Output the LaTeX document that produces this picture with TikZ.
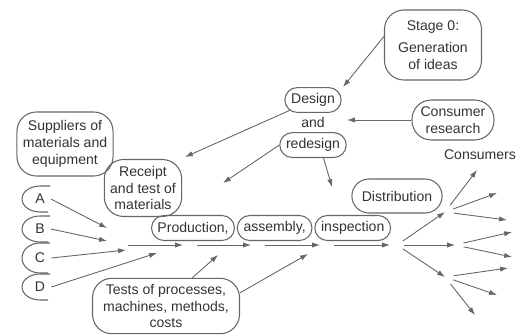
\documentclass[tikz,border=0pt]{standalone}
\usepackage{fontspec}
\setmainfont{Liberation Sans}
\usepackage{tikz}
\usetikzlibrary{arrows.meta, positioning, shapes.misc}

\begin{document}
\begin{tikzpicture}[x=0.02cm, y=-0.02cm, font=\fontsize{8}{9.5}\selectfont, text=black!80,
        box/.style={draw=black!60, rounded corners=11pt, align=center, line width=0.6pt},
        oval/.style={draw=black!60, rounded rectangle, inner xsep=2.5pt,
                     minimum height=0.5cm, line width=0.6pt},
        arr/.style={draw=black!60, line width=0.5pt, -{Latex[length=4.5pt,width=3pt]}},
        flow/.style={arr, shorten <=4pt, shorten >=4pt},
        bracket/.style={draw=black!60, line width=0.6pt}]
      \useasboundingbox (0,0) rectangle (525,335);
      \node[box, minimum width=1.94cm, minimum height=1.4cm] (stage) at (433,45)
        {Stage 0:\\[3pt]Generation\\of ideas};
      \node[oval, minimum height=0.4cm] (design) at (313,100) {Design};
      \node[below=-1pt of design] (and) {and};
      \node[oval, minimum height=0.4cm, below=-1pt of and] (redesign) {redesign};
      \node[box, minimum width=1.64cm, minimum height=0.8cm] (research) at (453,120)
        {Consumer\\research};
      \node (consumers) at (480,155) {Consumers};
      \node[box, minimum width=1.88cm, minimum height=1.28cm] (suppliers) at (65,144)
        {Suppliers of\\materials and\\equipment};
      \node[box, minimum width=1.54cm, minimum height=1.14cm] (receipt) at (143,188)
        {Receipt\\and test of\\materials};
      \node (la) at (40,199) {A};
      \node (lb) at (40,229) {B};
      \node (lc) at (40,258) {C};
      \node (ld) at (40,287) {D};
      \draw[bracket] (la.center) ++(10,-13) -- ++(-10,0)
        arc[start angle=90, end angle=270, x radius=0.36cm, y radius=0.26cm] -- ++(8,0);
      \draw[bracket] (lb.center) ++(10,-13) -- ++(-10,0)
        arc[start angle=90, end angle=270, x radius=0.36cm, y radius=0.26cm] -- ++(8,0);
      \draw[bracket] (lc.center) ++(10,-15) -- ++(-10,0)
        arc[start angle=90, end angle=270, x radius=0.36cm, y radius=0.3cm] -- ++(8,0);
      \draw[bracket] (ld.center) ++(10,-13) -- ++(-10,0)
        arc[start angle=90, end angle=270, x radius=0.36cm, y radius=0.26cm] -- ++(8,0);
      \node[oval] (prod) at (193,228) {Production,};
      \node[oval, right=1pt of prod] (assembly) {assembly,};
      \node[oval, right=1pt of assembly] (inspection) {inspection};
      \node[oval, minimum width=1.98cm, minimum height=0.68cm] (distribution) at (397,196)
        {Distribution};
      \node[box, minimum width=2.94cm, minimum height=1.1cm] (tests) at (166,306)
        {Tests of processes,\\machines, methods,\\costs};
      \coordinate (t1) at (343,87);
      \coordinate (t2) at (347,120);
      \coordinate (t3) at (185,157);
      \coordinate (t4) at (223,183);
      \coordinate (t5) at (332,187);
      \coordinate (ta) at (107,228);
      \coordinate (tb) at (107,241);
      \coordinate (tc) at (126,250);
      \coordinate (td) at (157,253);
      \coordinate (p0) at (121,245);
      \coordinate (p1) at (190,245);
      \coordinate (p2) at (258,245);
      \coordinate (p3) at (327,245);
      \coordinate (hub) at (397,245);
      \coordinate (k1) at (218,255);
      \coordinate (k2) at (308,254);
      \coordinate (c1) at (445,212);
      \coordinate (c2) at (455,245);
      \coordinate (c3) at (445,277);
      \coordinate (o1) at (477,170);
      \coordinate (o2) at (497,193);
      \coordinate (o3) at (507,220);
      \coordinate (o4) at (512,232);
      \coordinate (o5) at (512,257);
      \coordinate (o6) at (508,268);
      \coordinate (o7) at (497,295);
      \coordinate (o8) at (475,315);
      \draw[arr] (stage.170) -- (t1);
      \draw[arr] (research) -- (t2);
      \draw[arr] (design) -- (t3);
      \draw[arr] (redesign.west) -- (t4);
      \draw[arr] ([xshift=6pt]redesign.south) -- (t5);
      \draw[arr] (la.east) -- (ta);
      \draw[arr] (lb.east) -- (tb);
      \draw[arr] (lc.east) -- (tc);
      \draw[arr] (ld.east) -- (td);
      \draw[flow] (p0) -- (p1);
      \draw[flow] (p1) -- (p2);
      \draw[flow] (p2) -- (p3);
      \draw[flow] (p3) -- (hub);
      \draw[arr] ([xshift=15pt]tests.north) -- (k1);
      \draw[arr] ([yshift=7.5pt]tests.east) -- (k2);
      \draw[arr, shorten <=4pt] (hub) -- (c1);
      \draw[arr, shorten <=4pt] (hub) -- (c2);
      \draw[arr, shorten <=4pt] (hub) -- (c3);
      \draw[arr, shorten <=5pt] (c1) -- (o1);
      \draw[arr, shorten <=5pt] (c1) -- (o2);
      \draw[arr, shorten <=5pt] (c1) -- (o3);
      \draw[arr, shorten <=5pt] (c2) -- (o4);
      \draw[arr, shorten <=5pt] (c2) -- (o5);
      \draw[arr, shorten <=5pt] (c3) -- (o6);
      \draw[arr, shorten <=5pt] (c3) -- (o7);
      \draw[arr, shorten <=5pt] (c3) -- (o8);
    \end{tikzpicture}
\end{document}
